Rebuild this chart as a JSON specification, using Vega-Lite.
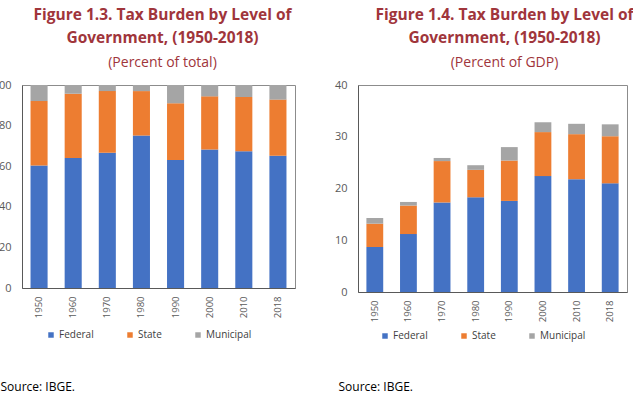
{
  "$schema": "https://vega.github.io/schema/vega-lite/v6.json",
  "background": "white",
  "padding": {"left": -9, "top": 7, "right": 0, "bottom": 0},
  "bounds": "flush",
  "spacing": 63,
  "config": {
    "font": "Open Sans",
    "view": {"stroke": "#8c8c8c", "strokeWidth": 1},
    "axis": {
      "labelFont": "Open Sans",
      "labelColor": "#595959",
      "domainColor": "#595959",
      "ticks": false,
      "grid": false
    },
    "axisY": {"labelFontSize": 11, "labelPadding": 11, "domain": true},
    "axisX": {"labelFontSize": 9.5, "labelPadding": 8, "labelAngle": -90},
    "title": {
      "font": "Open Sans",
      "fontSize": 15.5,
      "fontWeight": "bold",
      "color": "#A0353B",
      "lineHeight": 23,
      "subtitleFont": "Open Sans",
      "subtitleFontSize": 14,
      "subtitleColor": "#A0353B",
      "subtitlePadding": 10,
      "frame": "group",
      "offset": 9
    },
    "legend": {
      "orient": "none",
      "direction": "horizontal",
      "columnPadding": 31,
      "symbolType": "square",
      "symbolSize": 30,
      "symbolStrokeWidth": 0,
      "labelFont": "Open Sans",
      "labelFontSize": 10,
      "labelColor": "#404040",
      "labelOffset": 3,
      "title": null
    }
  },
  "datasets": {
    "total": [
      {"year": "1950", "level": "Federal", "value": 60.3},
      {"year": "1950", "level": "State", "value": 31.8},
      {"year": "1950", "level": "Municipal", "value": 7.9},
      {"year": "1960", "level": "Federal", "value": 64.1},
      {"year": "1960", "level": "State", "value": 31.6},
      {"year": "1960", "level": "Municipal", "value": 4.3},
      {"year": "1970", "level": "Federal", "value": 66.6},
      {"year": "1970", "level": "State", "value": 30.4},
      {"year": "1970", "level": "Municipal", "value": 3.0},
      {"year": "1980", "level": "Federal", "value": 75.1},
      {"year": "1980", "level": "State", "value": 21.9},
      {"year": "1980", "level": "Municipal", "value": 3.0},
      {"year": "1990", "level": "Federal", "value": 63.0},
      {"year": "1990", "level": "State", "value": 28.0},
      {"year": "1990", "level": "Municipal", "value": 9.0},
      {"year": "2000", "level": "Federal", "value": 68.2},
      {"year": "2000", "level": "State", "value": 26.2},
      {"year": "2000", "level": "Municipal", "value": 5.6},
      {"year": "2010", "level": "Federal", "value": 67.4},
      {"year": "2010", "level": "State", "value": 26.7},
      {"year": "2010", "level": "Municipal", "value": 5.9},
      {"year": "2018", "level": "Federal", "value": 65.2},
      {"year": "2018", "level": "State", "value": 27.6},
      {"year": "2018", "level": "Municipal", "value": 7.2}
    ],
    "gdp": [
      {"year": "1950", "level": "Federal", "value": 8.7},
      {"year": "1950", "level": "State", "value": 4.5},
      {"year": "1950", "level": "Municipal", "value": 1.1},
      {"year": "1960", "level": "Federal", "value": 11.2},
      {"year": "1960", "level": "State", "value": 5.5},
      {"year": "1960", "level": "Municipal", "value": 0.7},
      {"year": "1970", "level": "Federal", "value": 17.3},
      {"year": "1970", "level": "State", "value": 8.0},
      {"year": "1970", "level": "Municipal", "value": 0.6},
      {"year": "1980", "level": "Federal", "value": 18.3},
      {"year": "1980", "level": "State", "value": 5.3},
      {"year": "1980", "level": "Municipal", "value": 0.9},
      {"year": "1990", "level": "Federal", "value": 17.6},
      {"year": "1990", "level": "State", "value": 7.8},
      {"year": "1990", "level": "Municipal", "value": 2.6},
      {"year": "2000", "level": "Federal", "value": 22.4},
      {"year": "2000", "level": "State", "value": 8.5},
      {"year": "2000", "level": "Municipal", "value": 1.9},
      {"year": "2010", "level": "Federal", "value": 21.8},
      {"year": "2010", "level": "State", "value": 8.7},
      {"year": "2010", "level": "Municipal", "value": 2.0},
      {"year": "2018", "level": "Federal", "value": 21.0},
      {"year": "2018", "level": "State", "value": 9.1},
      {"year": "2018", "level": "Municipal", "value": 2.3}
    ]
  },
  "hconcat": [
    {
      "data": {"name": "total"},
      "transform": [{"window": [{"op": "row_number", "as": "stackrank"}], "groupby": ["year"]}],
      "width": 273,
      "height": 203,
      "title": {
        "text": ["Figure 1.3. Tax Burden by Level of", "Government, (1950-2018)"],
        "subtitle": "(Percent of total)",
        "dx": 4
      },
      "mark": {"type": "bar"},
      "encoding": {
        "x": {
          "field": "year",
          "type": "ordinal",
          "scale": {"paddingInner": 0.5, "paddingOuter": 0.25},
          "axis": {
            "title": "Source: IBGE.",
            "titleFont": "Open Sans",
            "titleFontSize": 12,
            "titleFontWeight": "normal",
            "titleColor": "#000000",
            "titleAnchor": "start",
            "titleAlign": "left",
            "titleBaseline": "middle",
            "titleX": -22,
            "titleY": 98
          }
        },
        "y": {
          "field": "value",
          "type": "quantitative",
          "stack": "zero",
          "scale": {"domain": [0, 100]},
          "axis": {"values": [0, 20, 40, 60, 80, 100], "title": null}
        },
        "order": {"field": "stackrank", "type": "quantitative", "sort": "ascending"},
        "color": {
          "field": "level",
          "type": "nominal",
          "sort": ["Federal", "State", "Municipal"],
          "scale": {"domain": ["Federal", "State", "Municipal"], "range": ["#4472C4", "#ED7D31", "#A5A5A5"]},
          "legend": {"legendX": 24, "legendY": 245}
        }
      }
    },
    {
      "data": {"name": "gdp"},
      "transform": [{"window": [{"op": "row_number", "as": "stackrank"}], "groupby": ["year"]}],
      "width": 269,
      "height": 207,
      "title": {
        "text": ["Figure 1.4. Tax Burden by Level of", "Government, (1950-2018)"],
        "subtitle": "(Percent of GDP)",
        "dx": 12
      },
      "mark": {"type": "bar"},
      "encoding": {
        "x": {
          "field": "year",
          "type": "ordinal",
          "scale": {"paddingInner": 0.5, "paddingOuter": 0.25},
          "axis": {
            "title": "Source: IBGE.",
            "titleFont": "Open Sans",
            "titleFontSize": 12,
            "titleFontWeight": "normal",
            "titleColor": "#000000",
            "titleAnchor": "start",
            "titleAlign": "left",
            "titleBaseline": "middle",
            "titleX": -20,
            "titleY": 94
          }
        },
        "y": {
          "field": "value",
          "type": "quantitative",
          "stack": "zero",
          "scale": {"domain": [0, 40]},
          "axis": {"values": [0, 10, 20, 30, 40], "title": null}
        },
        "order": {"field": "stackrank", "type": "quantitative", "sort": "ascending"},
        "color": {
          "field": "level",
          "type": "nominal",
          "sort": ["Federal", "State", "Municipal"],
          "scale": {"domain": ["Federal", "State", "Municipal"], "range": ["#4472C4", "#ED7D31", "#A5A5A5"]},
          "legend": {"legendX": 22, "legendY": 246}
        }
      }
    }
  ],
  "resolve": {"scale": {"color": "shared"}, "legend": {"color": "independent"}}
}
